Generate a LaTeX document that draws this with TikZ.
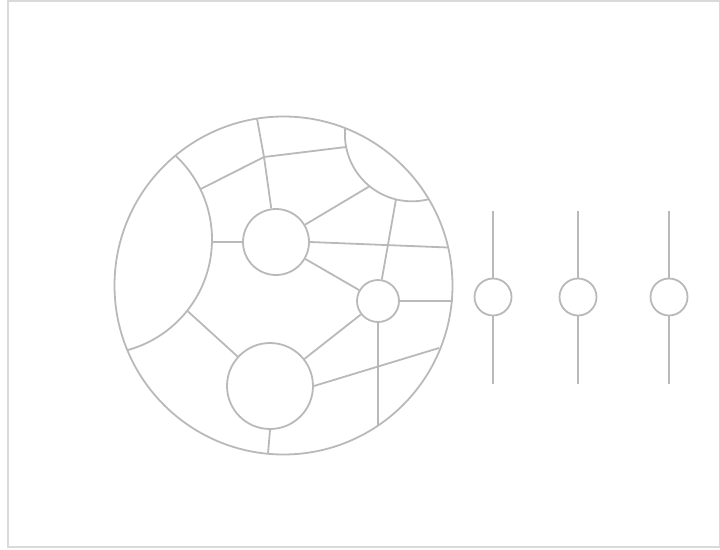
\documentclass[tikz,border=0pt]{standalone}
\begin{document}
\begin{tikzpicture}[x=1pt,y=-1pt,
  ln/.style={draw=lgray,line width=1.8pt},
  ring/.style={circle,draw=lgray,line width=1.8pt,inner sep=0pt,minimum size=#1},
]
\definecolor{lgray}{RGB}{185,185,185}
\definecolor{fgray}{RGB}{218,218,218}
\useasboundingbox (0,0) rectangle (720,549);
\draw[fgray,line width=1.5pt] (8,1) rectangle (719.5,547);

% big circle and inner arcs
\coordinate (O) at (283.5,285.5);
\begin{scope}
  \clip (O) circle (169);
  \draw[ln] (97.4,239.5) circle (114.6);
  \draw[ln] (412,134.2) circle (67.1);
\end{scope}
\node[ring=338pt] (big) at (O) {};

% inner circles
\node[ring=66pt] (A) at (276,242) {};
\node[ring=42pt] (B) at (378,301) {};
\node[ring=86pt] (C) at (270,386) {};

% junctions
\coordinate (J1) at (264,157);
\coordinate (L1) at (200.7,189);
\coordinate (L2) at (212.4,242);
\coordinate (L3) at (187.5,311);
\coordinate (T1) at (346,147);
\coordinate (T2) at (370,186);
\coordinate (T3) at (396,199.3);
\coordinate (E1) at (257,118.6);
\coordinate (E2) at (448,247.5);
\coordinate (E3) at (452.5,301);
\coordinate (E4) at (378,425.6);
\coordinate (E5) at (439,348);
\coordinate (E6) at (268,454);

\draw[ln] (L1) -- (J1);
\draw[ln] (E1) -- (J1) -- (A);
\draw[ln] (J1) -- (T1);
\draw[ln] (L2) -- (A.west);
\draw[ln] (A) -- (T2);
\draw[ln] (A.east) -- (E2);
\draw[ln] (A) -- (B);
\draw[ln] (T3) -- (B);
\draw[ln] (B.east) -- (E3);
\draw[ln] (B.south) -- (E4);
\draw[ln] (B) -- (C);
\draw[ln] (C.east) -- (E5);
\draw[ln] (C) -- (L3);
\draw[ln] (C.south) -- (E6);

% sliders
\foreach \i/\x in {1/493,2/578,3/669}{
  \node[ring=37pt] (s\i) at (\x,297) {};
  \coordinate (st\i) at (\x,211);
  \coordinate (sb\i) at (\x,384);
  \draw[ln] (st\i) -- (s\i.north);
  \draw[ln] (s\i.south) -- (sb\i);
}
\end{tikzpicture}
\end{document}
